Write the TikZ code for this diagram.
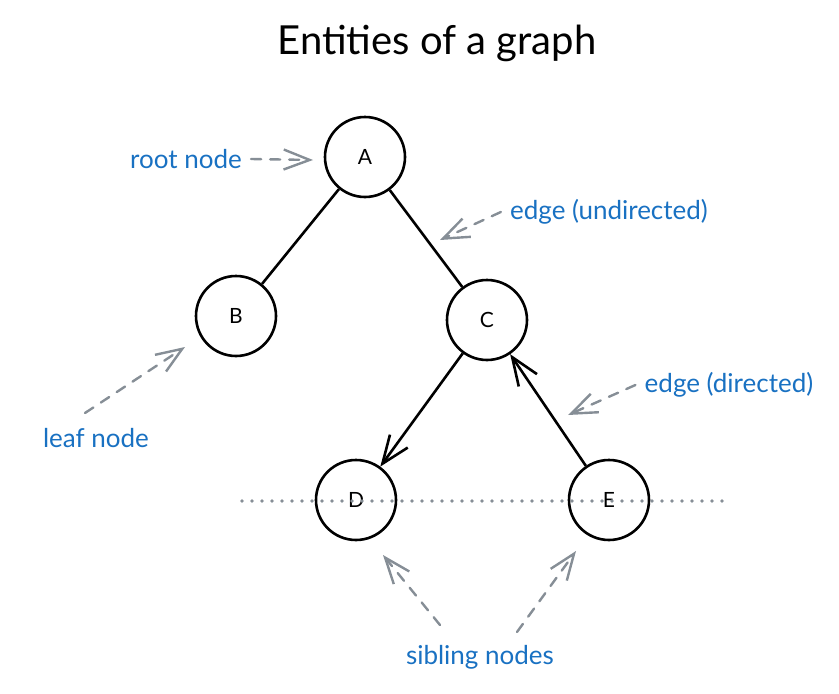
\documentclass[tikz,border=0pt]{standalone}
\usepackage{fontspec}
\setmainfont{Lato}
\usetikzlibrary{arrows.meta}
\definecolor{noteblue}{HTML}{1971C2}
\definecolor{hintgray}{HTML}{868E96}
\begin{document}
\begin{tikzpicture}[x=1pt, y=-1pt, line width=2.6pt,
  main/.style = {draw, circle, minimum size=80pt, inner sep=0pt, font=\fontsize{21}{24}\selectfont},
  note/.style = {text=noteblue, inner sep=2pt, font=\fontsize{26}{30}\selectfont},
  hint/.style = {draw=hintgray, line width=2.4pt, dash pattern=on 10pt off 9pt, line cap=round, -{Straight Barb[length=26pt, width=20pt]}},
  edge/.style = {-{Straight Barb[length=28pt, width=22pt]}}]
\useasboundingbox (0,0) rectangle (839,694);
\node[font=\fontsize{40}{44}\selectfont] (title) at (437,43) {Entities of a graph};
\node[main] (A) at (365,157) {A};
\node[main] (B) at (236,316) {B};
\node[main] (C) at (487,320) {C};
\node[main] (D) at (356,500) {D};
\node[main] (E) at (609,500) {E};
\draw (A) -- (B);
\draw (A) -- (C);
\draw[edge] (C) -- (D);
\draw[edge] (E) -- (C);
% dotted row of siblings
\coordinate (rowL) at (242,501);
\coordinate (rowR) at (730,501);
\draw[hintgray, line width=3.6pt, line cap=round, dash pattern=on 0pt off 10pt] (rowL) -- (rowR);
% notes
\node[note] (root) at (186,159) {root node};
\node[note] (undir) at (609,212) {edge (undirected)};
\node[note] (leaf) at (96,438) {leaf node};
\node[note] (dir) at (729,385) {edge (directed)};
\node[note] (sibling) at (480,657) {sibling nodes};
\coordinate (rootTip) at (313,160);
\coordinate (undirTip) at (440,240);
\coordinate (leafTip) at (185,347);
\coordinate (dirTip) at (568,415);
\coordinate (sibTipD) at (383,555);
\coordinate (sibTipE) at (576,551);
\draw[hint] ([xshift=6pt]root.east) -- (rootTip);
\draw[hint] ([xshift=-6pt]undir.west) -- (undirTip);
\draw[hint] ([shift={(-11,-25)}]leaf.center) -- (leafTip);
\draw[hint] ([xshift=-6pt]dir.west) -- (dirTip);
\draw[hint] ([shift={(-40,-32)}]sibling.center) -- (sibTipD);
\draw[hint] ([shift={(37,-25)}]sibling.center) -- (sibTipE);
\end{tikzpicture}
\end{document}
